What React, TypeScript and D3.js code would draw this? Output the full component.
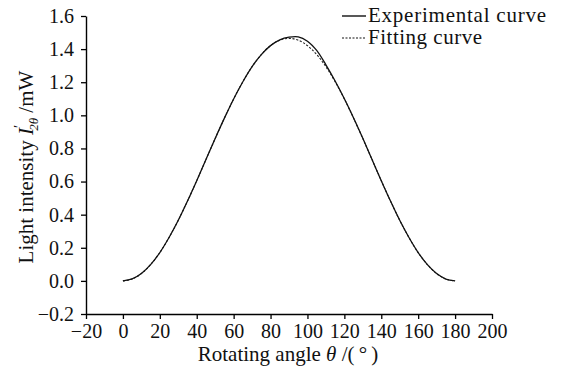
import React from 'react';
import * as d3 from 'd3';

// rotating angle (deg)
const angles = [0, 5, 10, 15, 20, 25, 30, 35, 40, 45, 50, 55, 60, 65, 70, 75, 80, 85, 90, 95, 100, 105, 110, 115, 120, 125, 130, 135, 140, 145, 150, 155, 160, 165, 170, 175, 180];
// measured light intensity (mW)
const experimental = [0, 0.012, 0.045, 0.098, 0.171, 0.262, 0.366, 0.482, 0.605, 0.733, 0.86, 0.983, 1.099, 1.203, 1.294, 1.367, 1.421, 1.456, 1.472, 1.474, 1.448, 1.392, 1.305, 1.207, 1.1, 0.984, 0.861, 0.733, 0.605, 0.482, 0.366, 0.262, 0.171, 0.098, 0.044, 0.011, 0];
// fitted light intensity (mW)
const fitting = [0, 0.011, 0.044, 0.098, 0.171, 0.262, 0.366, 0.482, 0.605, 0.733, 0.86, 0.983, 1.099, 1.203, 1.294, 1.367, 1.421, 1.454, 1.465, 1.454, 1.421, 1.367, 1.294, 1.203, 1.099, 0.983, 0.86, 0.733, 0.605, 0.482, 0.366, 0.262, 0.171, 0.098, 0.044, 0.011, 0];

const xTicks = [-20, 0, 20, 40, 60, 80, 100, 120, 140, 160, 180, 200];
const yTicks = [-0.2, 0, 0.2, 0.4, 0.6, 0.8, 1.0, 1.2, 1.4, 1.6];

const FONT = 'Liberation Serif, DejaVu Serif, serif';

const App = () => {
  const ref = React.useRef<SVGSVGElement>(null);

  React.useEffect(() => {
    const svg = d3.select(ref.current);
    svg.selectAll('*').remove();
    svg.attr('font-family', FONT);

    const x = d3.scaleLinear().domain([-20, 200]).range([86, 492]);
    const y = d3.scaleLinear().domain([-0.2, 1.6]).range([314, 16]);

    // x axis
    const xAxis = svg.append('g').attr('transform', `translate(0,${y(-0.2)})`).attr('font-family', FONT);
    xAxis.call(d3.axisBottom(x).tickValues(d3.range(-20, 201, 10)).tickSize(3).tickSizeOuter(0).tickFormat(() => ''));
    xAxis.call(d3.axisBottom(x).tickValues(xTicks).tickSize(5).tickSizeOuter(0).tickPadding(5).tickFormat(d => String(d).replace('-', '\u2212')));
    xAxis.selectAll('path').attr('stroke-width', 1.4);
    xAxis.selectAll('line').attr('stroke-width', 1.3);
    xAxis.selectAll('text').attr('font-family', FONT).attr('font-size', 20).attr('fill', '#111');

    // y axis
    const yAxis = svg.append('g').attr('transform', `translate(${x(-20)},0)`).attr('font-family', FONT);
    yAxis.call(d3.axisLeft(y).tickValues(d3.range(-2, 17, 1).map(v => v / 10)).tickSize(3).tickSizeOuter(0).tickFormat(() => ''));
    yAxis.call(d3.axisLeft(y).tickValues(yTicks).tickSize(5).tickSizeOuter(0).tickPadding(7).tickFormat(d => d3.format('.1f')(d as number).replace('-', '\u2212')));
    yAxis.selectAll('path').attr('stroke-width', 1.4);
    yAxis.selectAll('line').attr('stroke-width', 1.3);
    yAxis.selectAll('text').attr('font-family', FONT).attr('font-size', 20).attr('fill', '#111');

    // curves
    const line = d3.line<number>()
      .x((_, i) => x(angles[i]))
      .y(d => y(d))
      .curve(d3.curveCatmullRom.alpha(0.5));

    svg.append('path')
      .attr('d', line(fitting))
      .attr('fill', 'none')
      .attr('stroke', '#222')
      .attr('stroke-width', 1.1)
      .attr('stroke-dasharray', '2.2,1.6');

    svg.append('path')
      .attr('d', line(experimental))
      .attr('fill', 'none')
      .attr('stroke', '#111')
      .attr('stroke-width', 1.3);

    // legend
    const legend = svg.append('g');
    const items = [
      { label: 'Experimental curve', dash: null, yy: 16, w: 178 },
      { label: 'Fitting curve', dash: '2,1.5', yy: 38, w: 114 },
    ];
    items.forEach(it => {
      legend.append('line')
        .attr('x1', 342).attr('x2', 366).attr('y1', it.yy).attr('y2', it.yy)
        .attr('stroke', '#111').attr('stroke-width', it.dash ? 1 : 1.4)
        .attr('stroke-dasharray', it.dash);
      legend.append('text')
        .attr('x', 368).attr('y', it.yy + 6)
        .attr('font-family', FONT).attr('font-size', 21).attr('fill', '#111')
        .attr('textLength', it.w).attr('lengthAdjust', 'spacing')
        .text(it.label);
    });

    // x label
    const xl = svg.append('text')
      .attr('x', 288).attr('y', 361)
      .attr('text-anchor', 'middle')
      .attr('font-family', FONT).attr('font-size', 21).attr('fill', '#111');
    xl.append('tspan').text('Rotating angle ');
    xl.append('tspan').attr('font-style', 'italic').text('\u03B8');
    xl.append('tspan').text(' /(\u2009\u00B0\u2009)');

    // y label
    const yl = svg.append('text')
      .attr('transform', 'translate(33,167) rotate(-90)')
      .attr('text-anchor', 'middle')
      .attr('font-family', FONT).attr('font-size', 21).attr('fill', '#111');
    yl.append('tspan').text('Light intensity ');
    yl.append('tspan').attr('font-style', 'italic').text('I');
    yl.append('tspan').attr('dy', -9).attr('font-size', 15).text('\u2032');
    yl.append('tspan').attr('dx', -6).attr('dy', 14).attr('font-size', 13).attr('font-style', 'italic').text('2\u03B8');
    yl.append('tspan').attr('dy', -5).text(' /mW');
  }, []);

  return (
    <svg ref={ref} width={563} height={366} style={{ position: 'absolute', left: 0, top: 0, background: '#fff' }} />
  );
};

export default App;
